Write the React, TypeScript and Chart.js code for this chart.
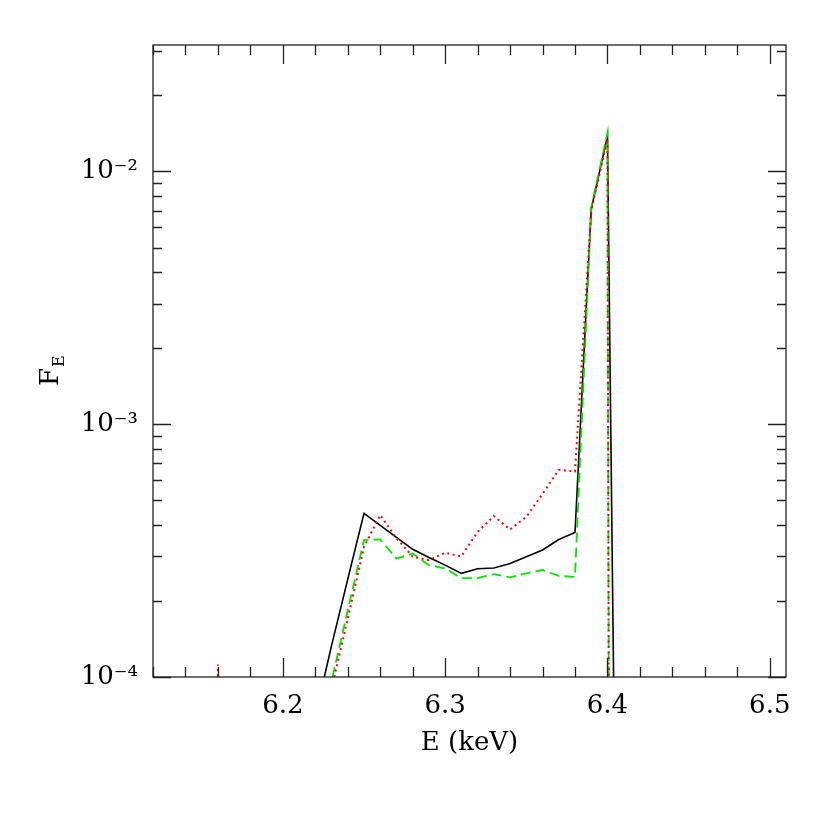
import React, { useEffect, useRef } from "react";
import { Chart, registerables } from "chart.js";

Chart.register(...registerables);

// Energy grid (keV)
const energies = [
  6.15, 6.16, 6.17, 6.18, 6.19, 6.2, 6.21, 6.22, 6.23, 6.24, 6.25, 6.26, 6.27, 6.28,
  6.29, 6.3, 6.31, 6.32, 6.33, 6.34, 6.35, 6.36, 6.37, 6.38, 6.39, 6.4, 6.41,
];

// Solid black curve
const blackValues = [
  1e-8, 1e-8, 1e-8, 1e-8, 1e-8, 1e-8, 1e-8, 7e-5, 1.33e-4, 2.44e-4, 4.44e-4, 3.98e-4,
  3.57e-4, 3.2e-4, 2.97e-4, 2.77e-4, 2.57e-4, 2.68e-4, 2.7e-4, 2.81e-4, 2.99e-4,
  3.18e-4, 3.5e-4, 3.73e-4, 7.1e-3, 1.38e-2, 3e-8,
];

// Dotted red curve
const redValues = [
  1e-8, 1.12e-4, 1e-8, 1e-8, 1e-8, 1e-8, 1e-8, 1e-8, 9e-5, 1.7e-4, 3.27e-4, 4.37e-4,
  3.54e-4, 2.99e-4, 2.9e-4, 3.1e-4, 3.0e-4, 3.75e-4, 4.33e-4, 3.83e-4, 4.3e-4,
  5.3e-4, 6.6e-4, 6.5e-4, 7.0e-3, 1.34e-2, 1e-30,
];

// Dashed green curve
const greenValues = [
  1e-8, 1e-8, 1e-8, 1e-8, 1e-8, 1e-8, 1e-8, 1e-8, 9.6e-5, 1.84e-4, 3.48e-4, 3.5e-4,
  2.94e-4, 3.08e-4, 2.77e-4, 2.69e-4, 2.46e-4, 2.46e-4, 2.55e-4, 2.48e-4, 2.57e-4,
  2.65e-4, 2.51e-4, 2.49e-4, 7.2e-3, 1.42e-2, 1e-30,
];

const xMin = 6.12;
const xMax = 6.51;
const yMin = 1e-4;
const yMax = 0.0316228;

const xTickValues = [6.2, 6.3, 6.4, 6.5];
const xTickLabels = ["6.2", "6.3", "6.4", "6.5"];
const yTickValues = [1e-4, 1e-3, 1e-2];
const yTickLabels = ["10\u207B\u2074", "10\u207B\u00B3", "10\u207B\u00B2"];

const FONT = "'DejaVu Serif', 'Liberation Serif', serif";

const framePlugin = {
  id: "frameTicks",
  afterDatasetsDraw(chart: any) {
    const { ctx, chartArea } = chart;
    const xs = chart.scales.x;
    const ys = chart.scales.y;
    const { left, right, top, bottom } = chartArea;
    ctx.save();
    ctx.strokeStyle = "#222";
    ctx.lineWidth = 1.3;
    ctx.strokeRect(left, top, right - left, bottom - top);

    const majX = 19;
    const minX = 10;
    ctx.beginPath();
    for (let i = 0; i <= 200; i++) {
      const v = 6.1 + i * 0.02;
      if (v < xMin - 1e-9 || v > xMax + 1e-9) continue;
      const isMajor = Math.abs(Math.round(v * 10) - v * 10) < 1e-6;
      const len = isMajor ? majX : minX;
      const px = Math.round(xs.getPixelForValue(v)) + 0.5;
      ctx.moveTo(px, bottom);
      ctx.lineTo(px, bottom - len);
      ctx.moveTo(px, top);
      ctx.lineTo(px, top + len);
    }
    const majY = 18;
    const minY = 9;
    for (let d = -5; d <= -1; d++) {
      for (let m = 1; m <= 9; m++) {
        const v = m * Math.pow(10, d);
        if (v < yMin * 0.999 || v > yMax * 1.001) continue;
        const len = m === 1 ? majY : minY;
        const py = Math.round(ys.getPixelForValue(v)) + 0.5;
        ctx.moveTo(left, py);
        ctx.lineTo(left + len, py);
        ctx.moveTo(right, py);
        ctx.lineTo(right - len, py);
      }
    }
    ctx.stroke();

    // y-axis title F_E (rotated)
    ctx.fillStyle = "#000";
    ctx.translate(58, 386);
    ctx.rotate(-Math.PI / 2);
    ctx.textBaseline = "alphabetic";
    ctx.textAlign = "left";
    ctx.font = `26px ${FONT}`;
    ctx.fillText("F", 0, 0);
    const w = ctx.measureText("F").width;
    ctx.font = `16px ${FONT}`;
    ctx.fillText("E", w + 1, 6);
    ctx.restore();
  },
};

export default function App() {
  const canvasRef = useRef<HTMLCanvasElement | null>(null);

  useEffect(() => {
    if (!canvasRef.current) return;
    const mk = (vals: number[]) => energies.map((e, i) => ({ x: e, y: vals[i] }));
    const chart = new Chart(canvasRef.current, {
      type: "line",
      data: {
        datasets: [
          {
            label: "red",
            data: mk(redValues),
            borderColor: "#ff0000",
            borderWidth: 2,
            borderDash: [2, 3.5],
            pointRadius: 0,
            tension: 0,
            order: 1,
          },
          {
            label: "green",
            data: mk(greenValues),
            borderColor: "#00e600",
            borderWidth: 1.8,
            borderDash: [10, 5],
            pointRadius: 0,
            tension: 0,
            order: 2,
          },
          {
            label: "black",
            data: mk(blackValues),
            borderColor: "#000000",
            borderWidth: 1.6,
            pointRadius: 0,
            tension: 0,
            order: 3,
          },
        ],
      },
      options: {
        animation: false,
        responsive: false,
        events: [],
        layout: { padding: { top: 45, right: 44, left: 0, bottom: 0 } },
        plugins: { legend: { display: false }, tooltip: { enabled: false } },
        scales: {
          x: {
            type: "linear",
            min: xMin,
            max: xMax,
            grid: { display: false, drawTicks: false },
            border: { display: false },
            afterBuildTicks: (scale: any) => {
              scale.ticks = xTickValues.map((v) => ({ value: v }));
            },
            afterFit: (scale: any) => {
              scale.height = 153;
            },
            ticks: {
              autoSkip: false,
              maxRotation: 0,
              padding: 14,
              color: "#000",
              font: { family: FONT, size: 26 },
              callback: (v: any) => {
                const i = xTickValues.findIndex((t) => Math.abs(t - Number(v)) < 1e-6);
                return i >= 0 ? xTickLabels[i] : "";
              },
            },
            title: {
              display: true,
              text: "E (keV)",
              color: "#000",
              font: { family: FONT, size: 26 },
              padding: { top: 0, bottom: 71 },
            },
          },
          y: {
            type: "logarithmic",
            min: yMin,
            max: yMax,
            grid: { display: false, drawTicks: false },
            border: { display: false },
            afterBuildTicks: (scale: any) => {
              scale.ticks = yTickValues.map((v) => ({ value: v }));
            },
            afterFit: (scale: any) => {
              scale.width = 153;
            },
            ticks: {
              autoSkip: false,
              padding: 15,
              color: "#000",
              font: { family: FONT, size: 26 },
              callback: (v: any) => {
                const i = yTickValues.findIndex((t) => Math.abs(t - Number(v)) / t < 1e-6);
                return i >= 0 ? yTickLabels[i] : "";
              },
            },
          },
        },
      },
      plugins: [framePlugin],
    });
    return () => chart.destroy();
  }, []);

  return (
    <div style={{ position: "absolute", left: 0, top: 0, width: 830, height: 830, background: "#fff" }}>
      <canvas ref={canvasRef} width={830} height={830} style={{ display: "block" }} />
    </div>
  );
}
